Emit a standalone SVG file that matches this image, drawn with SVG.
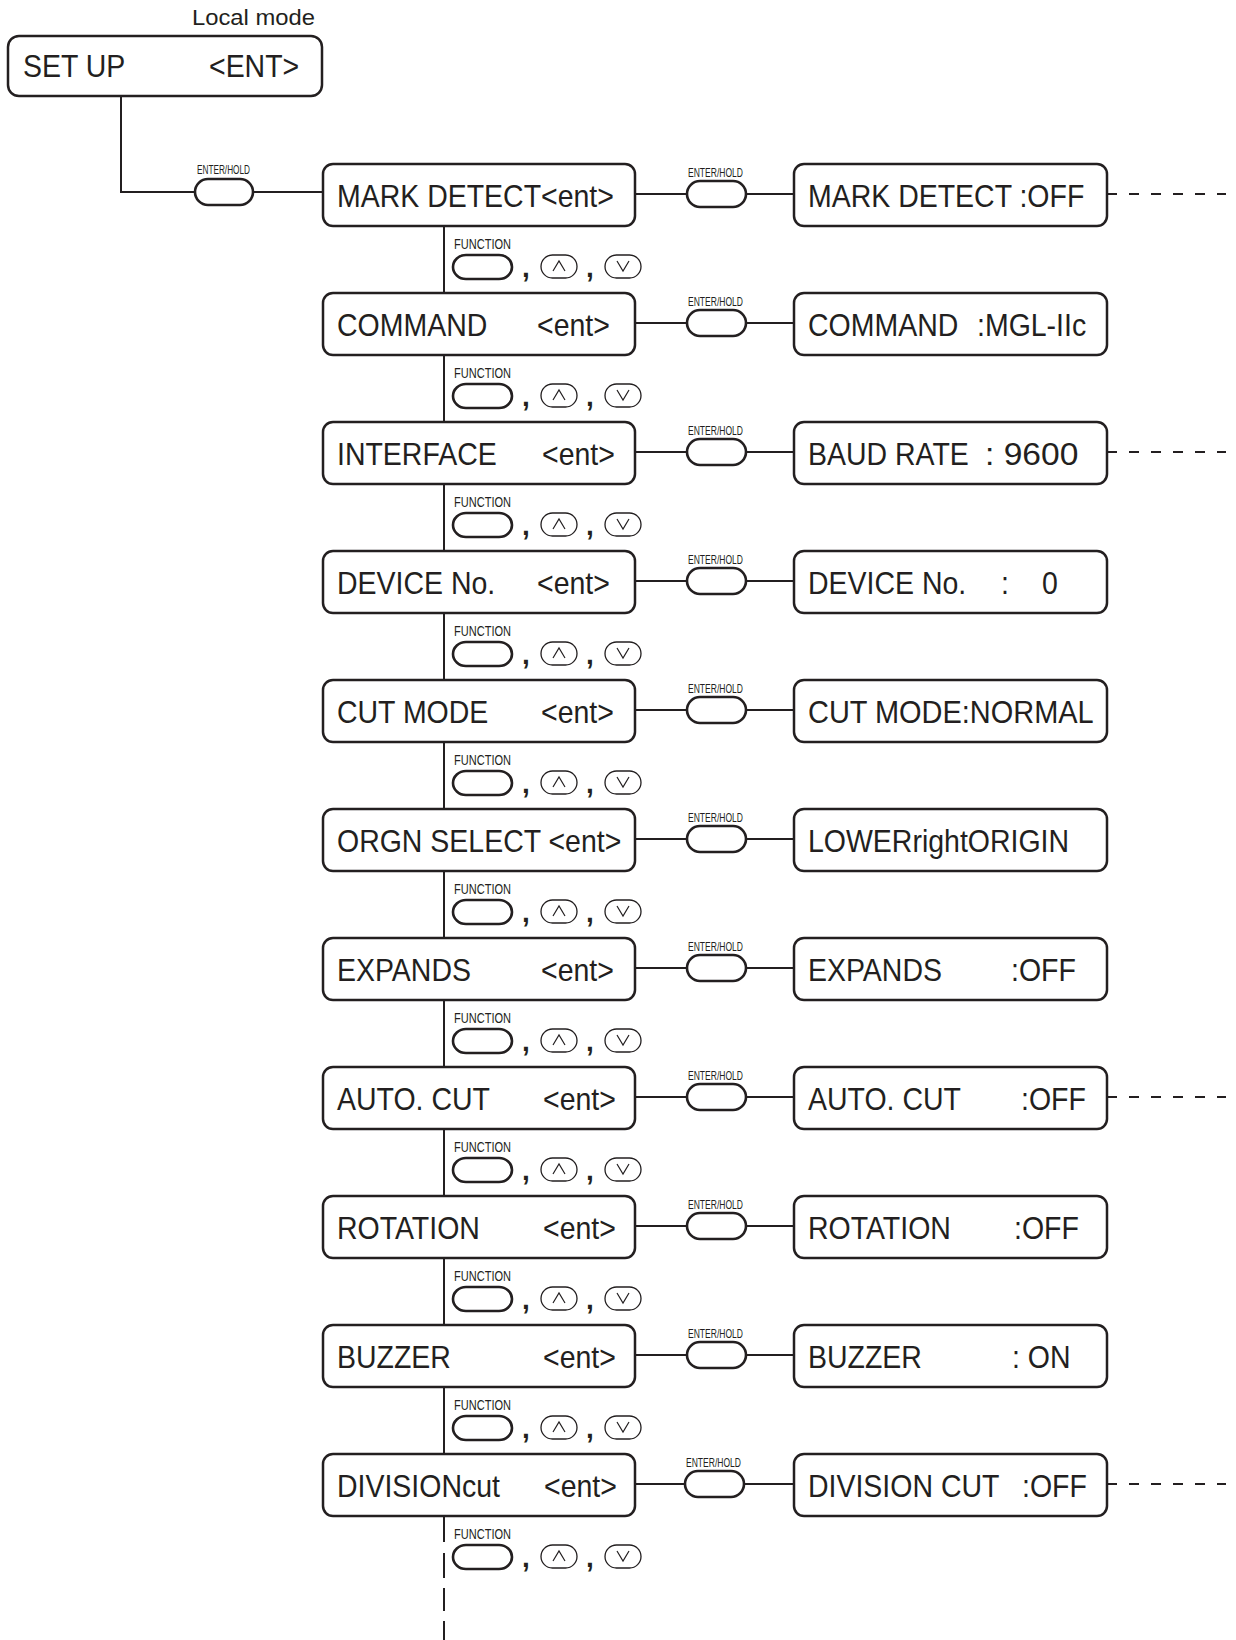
<svg xmlns="http://www.w3.org/2000/svg" width="1236" height="1640" viewBox="0 0 1236 1640">
<style>
.bx{fill:#fff;stroke:#231f20;stroke-width:2.5}
.ln{fill:none;stroke:#231f20;stroke-width:2}
.btn{fill:#fff;stroke:#231f20;stroke-width:2.6}
.sb{fill:#fff;stroke:#231f20;stroke-width:1.3}
.chev{fill:none;stroke:#231f20;stroke-width:1.2}
.dash{fill:none;stroke:#231f20;stroke-width:2;stroke-dasharray:10 12}
.t{font-family:"Liberation Sans",Arial,Helvetica,sans-serif;font-size:32px;fill:#231f20}
.s{font-family:"Liberation Sans",Arial,Helvetica,sans-serif;font-size:13px;fill:#231f20}
.f{font-family:"Liberation Sans",Arial,Helvetica,sans-serif;font-size:15px;fill:#231f20}
.c{font-family:"Liberation Sans",Arial,Helvetica,sans-serif;font-size:28px;font-weight:bold;fill:#231f20}
.lm{font-family:"Liberation Sans",Arial,Helvetica,sans-serif;font-size:22.5px;fill:#231f20}
</style>
<defs>
<g id="fkeys">
<text class="f" x="454" y="85" textLength="57" lengthAdjust="spacingAndGlyphs">FUNCTION</text>
<rect class="btn" x="453" y="91" width="59" height="24" rx="13" ry="12"/>
<text class="c" x="522" y="113">,</text>
<rect class="sb" x="541" y="91" width="36" height="23" rx="11.5"/>
<polyline class="chev" points="553,107 559,97 565,107"/>
<text class="c" x="586" y="113">,</text>
<rect class="sb" x="605" y="91" width="36" height="23" rx="11.5"/>
<polyline class="chev" points="617,97 623,107 629,97"/>
</g>
<g id="enter">
<text class="s" x="688" y="-17" textLength="55" lengthAdjust="spacingAndGlyphs">ENTER/HOLD</text>
<rect class="btn" x="687" y="-13" width="59" height="26" rx="13"/>
</g>
</defs>

<g id="connectors">
<polyline class="ln" points="121,96 121,192 195,192"/>
<line class="ln" x1="253" y1="192" x2="323" y2="192"/>
<line class="ln" x1="444" y1="226" x2="444" y2="293"/>
<line class="ln" x1="444" y1="355" x2="444" y2="422"/>
<line class="ln" x1="444" y1="484" x2="444" y2="551"/>
<line class="ln" x1="444" y1="613" x2="444" y2="680"/>
<line class="ln" x1="444" y1="742" x2="444" y2="809"/>
<line class="ln" x1="444" y1="871" x2="444" y2="938"/>
<line class="ln" x1="444" y1="1000" x2="444" y2="1067"/>
<line class="ln" x1="444" y1="1129" x2="444" y2="1196"/>
<line class="ln" x1="444" y1="1258" x2="444" y2="1325"/>
<line class="ln" x1="444" y1="1387" x2="444" y2="1454"/>
<line class="ln" x1="444" y1="1516" x2="444" y2="1542"/>
<line class="ln" x1="444" y1="1553" x2="444" y2="1578"/>
<line class="ln" x1="444" y1="1588" x2="444" y2="1611"/>
<line class="ln" x1="444" y1="1621" x2="444" y2="1640"/>
<path class="ln" d="M635 194H687M746 194H794M635 323H687M746 323H794M635 452H687M746 452H794M635 581H687M746 581H794M635 710H687M746 710H794M635 839H687M746 839H794M635 968H687M746 968H794M635 1097H687M746 1097H794M635 1226H687M746 1226H794M635 1355H687M746 1355H794M635 1484H685M744 1484H794"/>
<line class="dash" x1="1107" y1="194" x2="1226" y2="194"/>
<line class="dash" x1="1107" y1="452" x2="1226" y2="452"/>
<line class="dash" x1="1107" y1="1097" x2="1226" y2="1097"/>
<line class="dash" x1="1107" y1="1484" x2="1226" y2="1484"/>
</g>

<g id="setup">
<text class="lm" x="192" y="25" textLength="123" lengthAdjust="spacingAndGlyphs">Local mode</text>
<rect class="bx" x="8" y="36" width="314" height="60" rx="11"/>
<text class="t" transform="translate(23,77) scale(.89 1)">SET UP</text>
<text class="t" transform="translate(209,77) scale(.89 1)">&lt;ENT&gt;</text>
</g>
<g id="enter-setup">
<text class="s" x="197" y="174" textLength="53" lengthAdjust="spacingAndGlyphs">ENTER/HOLD</text>
<rect class="btn" x="195" y="179" width="58" height="26" rx="13"/>
</g>

<g id="row0">
<g id="mark-detect"><rect class="bx" x="323" y="164" width="312" height="62" rx="10"/><text class="t" transform="translate(337,207) scale(.89 1)">MARK DETECT&lt;ent&gt;</text></g>
<use href="#enter" transform="translate(0,194)"/>
<g id="mark-detect-val"><rect class="bx" x="794" y="164" width="313" height="62" rx="10"/><text class="t" transform="translate(808,207) scale(.89 1)">MARK DETECT :OFF</text></g>
<use href="#fkeys" transform="translate(0,164)"/>
</g>
<g id="row1">
<g id="command"><rect class="bx" x="323" y="293" width="312" height="62" rx="10"/><text class="t" transform="translate(337,336) scale(.89 1)">COMMAND</text><text class="t" transform="translate(537,336) scale(.89 1)">&lt;ent&gt;</text></g>
<use href="#enter" transform="translate(0,323)"/>
<g id="command-val"><rect class="bx" x="794" y="293" width="313" height="62" rx="10"/><text class="t" transform="translate(808,336) scale(.89 1)">COMMAND</text><text class="t" transform="translate(977,336) scale(.89 1)">:MGL-IIc</text></g>
<use href="#fkeys" transform="translate(0,293)"/>
</g>
<g id="row2">
<g id="interface"><rect class="bx" x="323" y="422" width="312" height="62" rx="10"/><text class="t" transform="translate(337,465) scale(.89 1)">INTERFACE</text><text class="t" transform="translate(542,465) scale(.89 1)">&lt;ent&gt;</text></g>
<use href="#enter" transform="translate(0,452)"/>
<g id="baud-rate"><rect class="bx" x="794" y="422" width="313" height="62" rx="10"/><text class="t" transform="translate(808,465) scale(.89 1)">BAUD RATE</text><text class="t" transform="translate(985,465) scale(.89 1)" textLength="105" lengthAdjust="spacingAndGlyphs">: 9600</text></g>
<use href="#fkeys" transform="translate(0,422)"/>
</g>
<g id="row3">
<g id="device-no"><rect class="bx" x="323" y="551" width="312" height="62" rx="10"/><text class="t" transform="translate(337,594) scale(.89 1)">DEVICE No.</text><text class="t" transform="translate(537,594) scale(.89 1)">&lt;ent&gt;</text></g>
<use href="#enter" transform="translate(0,581)"/>
<g id="device-no-val"><rect class="bx" x="794" y="551" width="313" height="62" rx="10"/><text class="t" transform="translate(808,594) scale(.89 1)">DEVICE No.</text><text class="t" transform="translate(1001,594) scale(.89 1)">:</text><text class="t" transform="translate(1042,594) scale(.89 1)">0</text></g>
<use href="#fkeys" transform="translate(0,551)"/>
</g>
<g id="row4">
<g id="cut-mode"><rect class="bx" x="323" y="680" width="312" height="62" rx="10"/><text class="t" transform="translate(337,723) scale(.89 1)">CUT MODE</text><text class="t" transform="translate(541,723) scale(.89 1)">&lt;ent&gt;</text></g>
<use href="#enter" transform="translate(0,710)"/>
<g id="cut-mode-val"><rect class="bx" x="794" y="680" width="313" height="62" rx="10"/><text class="t" transform="translate(808,723) scale(.89 1)" textLength="321" lengthAdjust="spacingAndGlyphs">CUT MODE:NORMAL</text></g>
<use href="#fkeys" transform="translate(0,680)"/>
</g>
<g id="row5">
<g id="orgn-select"><rect class="bx" x="323" y="809" width="312" height="62" rx="10"/><text class="t" transform="translate(337,852) scale(.89 1)">ORGN SELECT &lt;ent&gt;</text></g>
<use href="#enter" transform="translate(0,839)"/>
<g id="origin-val"><rect class="bx" x="794" y="809" width="313" height="62" rx="10"/><text class="t" transform="translate(808,852) scale(.89 1)">LOWERrightORIGIN</text></g>
<use href="#fkeys" transform="translate(0,809)"/>
</g>
<g id="row6">
<g id="expands"><rect class="bx" x="323" y="938" width="312" height="62" rx="10"/><text class="t" transform="translate(337,981) scale(.89 1)">EXPANDS</text><text class="t" transform="translate(541,981) scale(.89 1)">&lt;ent&gt;</text></g>
<use href="#enter" transform="translate(0,968)"/>
<g id="expands-val"><rect class="bx" x="794" y="938" width="313" height="62" rx="10"/><text class="t" transform="translate(808,981) scale(.89 1)">EXPANDS</text><text class="t" transform="translate(1011,981) scale(.89 1)">:OFF</text></g>
<use href="#fkeys" transform="translate(0,938)"/>
</g>
<g id="row7">
<g id="auto-cut"><rect class="bx" x="323" y="1067" width="312" height="62" rx="10"/><text class="t" transform="translate(337,1110) scale(.89 1)">AUTO. CUT</text><text class="t" transform="translate(543,1110) scale(.89 1)">&lt;ent&gt;</text></g>
<use href="#enter" transform="translate(0,1097)"/>
<g id="auto-cut-val"><rect class="bx" x="794" y="1067" width="313" height="62" rx="10"/><text class="t" transform="translate(808,1110) scale(.89 1)">AUTO. CUT</text><text class="t" transform="translate(1021,1110) scale(.89 1)">:OFF</text></g>
<use href="#fkeys" transform="translate(0,1067)"/>
</g>
<g id="row8">
<g id="rotation"><rect class="bx" x="323" y="1196" width="312" height="62" rx="10"/><text class="t" transform="translate(337,1239) scale(.89 1)">ROTATION</text><text class="t" transform="translate(543,1239) scale(.89 1)">&lt;ent&gt;</text></g>
<use href="#enter" transform="translate(0,1226)"/>
<g id="rotation-val"><rect class="bx" x="794" y="1196" width="313" height="62" rx="10"/><text class="t" transform="translate(808,1239) scale(.89 1)">ROTATION</text><text class="t" transform="translate(1014,1239) scale(.89 1)">:OFF</text></g>
<use href="#fkeys" transform="translate(0,1196)"/>
</g>
<g id="row9">
<g id="buzzer"><rect class="bx" x="323" y="1325" width="312" height="62" rx="10"/><text class="t" transform="translate(337,1368) scale(.89 1)">BUZZER</text><text class="t" transform="translate(543,1368) scale(.89 1)">&lt;ent&gt;</text></g>
<use href="#enter" transform="translate(0,1355)"/>
<g id="buzzer-val"><rect class="bx" x="794" y="1325" width="313" height="62" rx="10"/><text class="t" transform="translate(808,1368) scale(.89 1)">BUZZER</text><text class="t" transform="translate(1012,1368) scale(.89 1)">: ON</text></g>
<use href="#fkeys" transform="translate(0,1325)"/>
</g>
<g id="row10">
<g id="division-cut"><rect class="bx" x="323" y="1454" width="312" height="62" rx="10"/><text class="t" transform="translate(337,1497) scale(.89 1)">DIVISIONcut</text><text class="t" transform="translate(544,1497) scale(.89 1)">&lt;ent&gt;</text></g>
<use href="#enter" transform="translate(-2,1484)"/>
<g id="division-cut-val"><rect class="bx" x="794" y="1454" width="313" height="62" rx="10"/><text class="t" transform="translate(808,1497) scale(.89 1)">DIVISION CUT</text><text class="t" transform="translate(1022,1497) scale(.89 1)">:OFF</text></g>
<use href="#fkeys" transform="translate(0,1454)"/>
</g>
</svg>
